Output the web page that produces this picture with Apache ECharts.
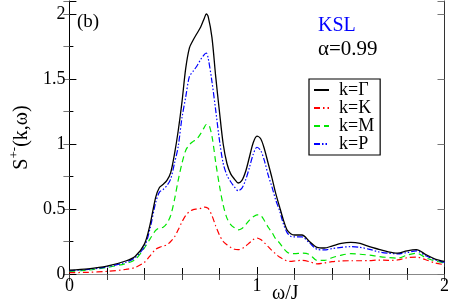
<!DOCTYPE html>
<html>
<head>
<meta charset="utf-8">
<script src="https://cdn.jsdelivr.net/npm/echarts@6/dist/echarts.min.js"></script>
<style>
html,body{margin:0;padding:0;background:#fff;}
#chart{width:452px;height:306px;}
</style>
</head>
<body>
<div id="chart"></div>
<script>
const omega = [0, 0.1, 0.2, 0.3, 0.35, 0.4, 0.43, 0.46, 0.48, 0.5, 0.52, 0.54, 0.56, 0.58, 0.6, 0.62, 0.64, 0.66, 0.68, 0.7, 0.72, 0.73, 0.74, 0.76, 0.78, 0.8, 0.82, 0.84, 0.86, 0.88, 0.9, 0.92, 0.94, 0.96, 0.98, 1.0, 1.02, 1.04, 1.06, 1.08, 1.1, 1.12, 1.14, 1.16, 1.18, 1.2, 1.24, 1.28, 1.32, 1.36, 1.4, 1.45, 1.5, 1.55, 1.6, 1.65, 1.7, 1.75, 1.8, 1.85, 1.9, 1.95, 2.0];

const sGamma = [0.03, 0.04, 0.06, 0.1, 0.135, 0.23, 0.38, 0.59, 0.665, 0.69, 0.72, 0.78, 0.92, 1.1, 1.32, 1.58, 1.74, 1.8, 1.85, 1.9, 1.97, 2.0, 1.98, 1.82, 1.52, 1.25, 1.0, 0.85, 0.77, 0.73, 0.7, 0.72, 0.79, 0.9, 1.01, 1.06, 1.04, 0.96, 0.85, 0.74, 0.62, 0.52, 0.42, 0.34, 0.31, 0.30, 0.30, 0.25, 0.205, 0.20, 0.215, 0.235, 0.243, 0.235, 0.21, 0.19, 0.17, 0.16, 0.178, 0.187, 0.15, 0.115, 0.097];

const sK = [0.01, 0.013, 0.02, 0.035, 0.05, 0.09, 0.14, 0.19, 0.205, 0.215, 0.225, 0.25, 0.285, 0.34, 0.4, 0.45, 0.48, 0.495, 0.5, 0.505, 0.515, 0.512, 0.505, 0.45, 0.37, 0.3, 0.25, 0.225, 0.205, 0.19, 0.187, 0.195, 0.215, 0.24, 0.265, 0.277, 0.265, 0.24, 0.21, 0.18, 0.155, 0.13, 0.115, 0.1, 0.097, 0.1, 0.105, 0.095, 0.078, 0.085, 0.095, 0.1, 0.102, 0.102, 0.103, 0.107, 0.105, 0.108, 0.125, 0.13, 0.11, 0.085, 0.072];

const sM = [0.02, 0.03, 0.05, 0.08, 0.11, 0.2, 0.27, 0.335, 0.355, 0.36, 0.39, 0.45, 0.57, 0.72, 0.85, 0.95, 0.995, 1.02, 1.04, 1.08, 1.13, 1.15, 1.15, 1.06, 0.86, 0.68, 0.53, 0.43, 0.38, 0.355, 0.34, 0.35, 0.38, 0.415, 0.44, 0.455, 0.45, 0.41, 0.36, 0.32, 0.27, 0.24, 0.2, 0.17, 0.157, 0.157, 0.16, 0.15, 0.105, 0.105, 0.125, 0.145, 0.156, 0.152, 0.145, 0.135, 0.127, 0.122, 0.145, 0.16, 0.125, 0.1, 0.085];

const sP = [0.025, 0.035, 0.055, 0.09, 0.125, 0.21, 0.35, 0.55, 0.63, 0.65, 0.68, 0.73, 0.85, 0.98, 1.2, 1.36, 1.52, 1.56, 1.6, 1.65, 1.69, 1.70, 1.66, 1.48, 1.26, 1.03, 0.85, 0.76, 0.71, 0.67, 0.64, 0.66, 0.725, 0.82, 0.92, 0.975, 0.95, 0.87, 0.76, 0.67, 0.57, 0.49, 0.39, 0.32, 0.29, 0.285, 0.285, 0.24, 0.19, 0.185, 0.195, 0.205, 0.21, 0.205, 0.19, 0.17, 0.16, 0.155, 0.165, 0.178, 0.14, 0.11, 0.09];

const seriesNames = ['k=Γ', 'k=K', 'k=M', 'k=P'];
const xTickLabels = ['0', '1', '2'];
const yTickLabels = ['0', '0.5', '1', '1.5', '2'];

const pairs = (ys) => omega.map((x, i) => [x, ys[i]]);
const FONT = 'Liberation Serif';

const chart = echarts.init(document.getElementById('chart'), null, {renderer: 'canvas'});

const yCommon = {type: 'value', min: 0, max: 2.1, splitLine: {show: false}};
const xCommon = {type: 'value', min: 0, max: 2, splitLine: {show: false}};

const option = {
  animation: false,
  backgroundColor: '#fff',
  grid: {left: 57, right: 6, top: 1, bottom: 32, containLabel: false},
  xAxis: [
    Object.assign({}, xCommon, {
      position: 'bottom', interval: 1,
      axisLine: {show: true, lineStyle: {color: '#000', width: 1}},
      axisTick: {show: true, inside: true, length: 7, lineStyle: {color: '#000'}},
      minorTick: {show: true, splitNumber: 5, length: 6, lineStyle: {color: '#000'}},
      axisLabel: {show: true, margin: 3, fontFamily: FONT, fontSize: 18, color: '#000',
        formatter: (v) => xTickLabels.includes(String(v)) ? String(v) : ''}
    }),
    Object.assign({}, xCommon, {
      position: 'top', interval: 1,
      axisLine: {show: true, lineStyle: {color: '#888', width: 1}},
      axisTick: {show: true, inside: true, length: 7, lineStyle: {color: '#444'}},
      minorTick: {show: true, splitNumber: 5, length: 6, lineStyle: {color: '#444'}},
      axisLabel: {show: false}
    })
  ],
  yAxis: [
    Object.assign({}, yCommon, {
      position: 'left', interval: 0.5,
      axisLine: {show: true, onZero: false, lineStyle: {color: '#000', width: 1}},
      axisTick: {show: true, inside: true, length: 7, lineStyle: {color: '#000'}},
      axisLabel: {show: true, margin: 4, fontFamily: FONT, fontSize: 18, color: '#000',
        formatter: (v) => yTickLabels.includes(String(v)) ? String(v) : ''},
      name: '{s|S}{sup|+-}{p|(k,ω)}',
      nameLocation: 'middle', nameRotate: 90, nameGap: 32,
      nameTextStyle: {
        fontFamily: FONT, fontSize: 20, color: '#000',
        rich: {
          s: {fontFamily: FONT, fontSize: 20, lineHeight: 24, verticalAlign: 'bottom'},
          sup: {fontFamily: FONT, fontSize: 13, lineHeight: 24, verticalAlign: 'top'},
          p: {fontFamily: FONT, fontSize: 20, lineHeight: 24, verticalAlign: 'bottom'}
        }
      }
    }),
    Object.assign({}, yCommon, {
      position: 'left', interval: 0.25,
      axisLine: {show: false},
      axisTick: {show: true, inside: true, length: 4, lineStyle: {color: '#000'}},
      axisLabel: {show: false}
    }),
    Object.assign({}, yCommon, {
      position: 'right', interval: 0.5,
      axisLine: {show: true, onZero: false, lineStyle: {color: '#333', width: 1}},
      axisTick: {show: true, inside: true, length: 7, lineStyle: {color: '#777'}},
      axisLabel: {show: false}
    }),
    Object.assign({}, yCommon, {
      position: 'right', interval: 0.25,
      axisLine: {show: false},
      axisTick: {show: true, inside: true, length: 6, lineStyle: {color: '#777'}},
      axisLabel: {show: false}
    })
  ],
  legend: {
    orient: 'vertical', left: 309, top: 79,
    padding: [2, 6, 2, 4], itemGap: 0, itemWidth: 15, itemHeight: 10,
    borderColor: '#000', borderWidth: 1.2, borderRadius: 0,
    itemStyle: {opacity: 0},
    textStyle: {fontFamily: FONT, fontSize: 18, color: '#000', lineHeight: 17, padding: [0, 0, 0, 5]},
    data: seriesNames
  },
  graphic: [
    {type: 'text', left: 77, top: 13, style: {text: '(b)', fontFamily: FONT, fontSize: 19, fill: '#000'}},
    {type: 'text', left: 318, top: 16, style: {text: 'KSL', fontFamily: FONT, fontSize: 20, fill: '#0000ff'}},
    {type: 'text', left: 318, top: 39, style: {text: 'α=0.99', fontFamily: FONT, fontSize: 21, fill: '#000'}},
    {type: 'text', left: 272, top: 284, style: {text: 'ω/J', fontFamily: FONT, fontSize: 20, fill: '#000'}}
  ],
  series: [
    {name: seriesNames[0], type: 'line', data: pairs(sGamma), symbol: 'none', smooth: 0.3,
      lineStyle: {color: '#000', width: 1.3}, itemStyle: {color: '#000'}, z: 5},
    {name: seriesNames[1], type: 'line', data: pairs(sK), symbol: 'none', smooth: 0.3,
      lineStyle: {color: '#ff0000', width: 1.2, type: [6, 3, 1.5, 3]}, itemStyle: {color: '#ff0000'}},
    {name: seriesNames[2], type: 'line', data: pairs(sM), symbol: 'none', smooth: 0.3,
      lineStyle: {color: '#00e600', width: 1.2, type: [6, 4]}, itemStyle: {color: '#00e600'}},
    {name: seriesNames[3], type: 'line', data: pairs(sP), symbol: 'none', smooth: 0.3,
      lineStyle: {color: '#0000ff', width: 1.2, type: [6, 2, 1.5, 2, 1.5, 2]}, itemStyle: {color: '#0000ff'}}
  ]
};
chart.setOption(option);
</script>
</body>
</html>
